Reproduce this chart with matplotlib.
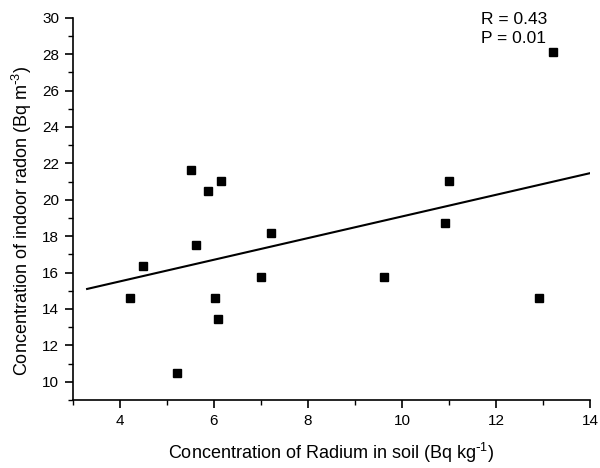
import numpy as np
import matplotlib
matplotlib.use("Agg")
import matplotlib.pyplot as plt
from matplotlib.ticker import MultipleLocator

plt.rcParams['font.family'] = ['Liberation Sans', 'DejaVu Sans']
plt.rcParams['mathtext.default'] = 'regular'

# Radium in soil (Bq/kg) vs indoor radon (Bq/m3)
radium = [5.51, 5.88, 6.14, 7.22, 4.22, 4.49, 5.62, 5.22, 6.03, 6.09, 7.01,
          13.22, 11.01, 10.91, 9.61, 12.91]
radon = [21.63, 20.46, 21.05, 18.15, 14.61, 16.37, 17.52, 10.51, 14.61, 13.43,
         15.76, 28.09, 21.05, 18.71, 15.76, 14.61]

# Linear fit line endpoints
fit_x = [3.3, 14.0]
fit_y = [15.10, 21.46]

W, H = 600, 468
fig = plt.figure(figsize=(W / 100, H / 100), dpi=100)
ax = fig.add_axes([73 / W, 1 - 400 / H, 517 / W, 382.3 / H])

ax.plot(fit_x, fit_y, color='black', lw=1.5)
ax.plot(radium, radon, 's', color='black', ms=5.2, ls='none')

ax.set_xlim(3, 14)
ax.set_ylim(9, 30)
ax.xaxis.set_major_locator(MultipleLocator(2))
ax.xaxis.set_minor_locator(MultipleLocator(1))
ax.yaxis.set_major_locator(MultipleLocator(2))
ax.yaxis.set_minor_locator(MultipleLocator(1))

for s in ['top', 'right']:
    ax.spines[s].set_visible(False)
for s in ['left', 'bottom']:
    ax.spines[s].set_linewidth(1.2)

ax.tick_params(which='major', direction='out', length=6, width=1.2, labelsize=11, pad=4)
ax.tick_params(which='minor', direction='out', length=3.5, width=1.0)

fig.text(331.5 / W, 1 - 459 / H, r'Concentration of Radium in soil (Bq kg$^{\text{-}1}$)',
         fontsize=13, ha='center', va='baseline')
fig.text(28 / W, 1 - 221 / H, r'Concentration of indoor radon (Bq m$^{\text{-}3}$)',
         fontsize=13, ha='center', va='baseline', rotation=90, rotation_mode='anchor')

fig.text(481 / W, 1 - 24 / H, 'R = 0.43', fontsize=12.5, ha='left', va='baseline')
fig.text(481 / W, 1 - 42.7 / H, 'P = 0.01', fontsize=12.5, ha='left', va='baseline')

fig.savefig('out.png', dpi=100)
